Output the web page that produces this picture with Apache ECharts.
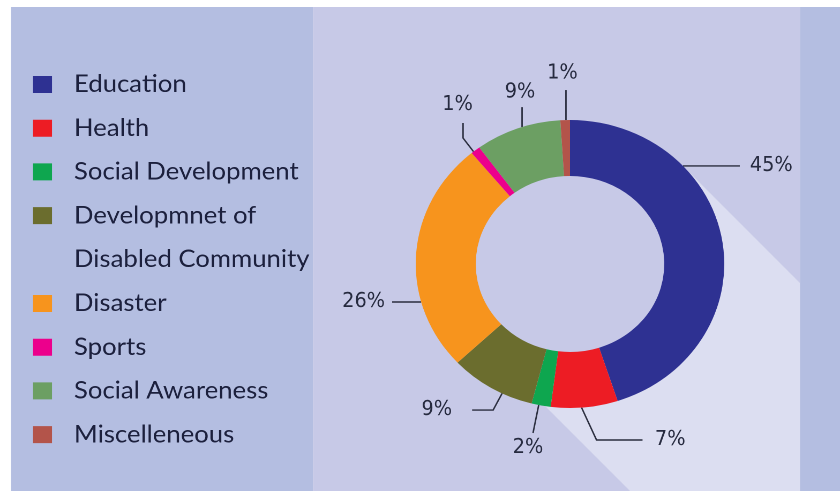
<!DOCTYPE html>
<html>
<head>
<meta charset="utf-8">
<script src="https://cdn.jsdelivr.net/npm/echarts@6/dist/echarts.min.js"></script>
<style>
  html, body { margin: 0; padding: 0; background: #ffffff; overflow: hidden; width: 840px; height: 491px; }
  /* the drawing is laid out on a 784px wide canvas and widened to 840px */
  #chart { width: 784px; height: 491px; transform: scaleX(1.0714); transform-origin: 0 0; }
</style>
</head>
<body>
<div id="chart"></div>
<script>
// ---- data ----
const categories = [
  'Education',
  'Health',
  'Social Development',
  'Developmnet of Disabled Community',
  'Disaster',
  'Sports',
  'Social Awareness',
  'Miscelleneous'
];
const shares = [45, 7, 2, 9, 26, 1, 9, 1];
const sliceColors = ['#2e3192', '#ed1c24', '#0ea64f', '#6b6d2e', '#f7941d', '#ec008c', '#6c9f63', '#b3544a'];

// ---- layout ----
const S = 840 / 784;              // horizontal stretch applied by CSS
const W = 784, H = 491;
const C = [532, 264];             // pie centre
const R = [88, 144];              // inner / outer radius

// label guides: attach angle (deg, clockwise from 12 o'clock), line segments, text offset
const guides = {
  'Education':                          { a: 47.1,  path: [[53, 0]],                text: [9.4, 0],    align: 'left' },
  'Health':                             { a: 175.7, path: [[14, 32.4], [42.9, 0]],  text: [11.6, 0],   align: 'left' },
  'Social Development':                 { a: 191.7, path: [[-5.3, 28]],             text: [-4.7, 15],  align: 'center' },
  'Developmnet of Disabled Community':  { a: 206.1, path: [[-8.4, 16.7], [-19.6, 0]], text: [-18.7, 0], align: 'right' },
  'Disaster':                           { a: 254.7, path: [[-27.1, 0]],             text: [-6.6, 0],   align: 'right' },
  'Sports':                             { a: 321.3, path: [[-9.8, -13.6], [0, -15]], text: [-5.1, -18], align: 'center' },
  'Social Awareness':                   { a: 341.9, path: [[0, -20]],               text: [-1.9, -15], align: 'center' },
  'Miscelleneous':                      { a: 358.5, path: [[0, -30]],               text: [-3.3, -17], align: 'center' }
};

// long shadow behind the ring, built in the stretched frame then mapped back
function shadowPoints() {
  const cx = C[0] * S, cy = C[1], a = R[1] * S, b = R[1];
  const n = Math.sqrt(a * a + b * b);
  const tx = cx + a * a / n, ty = cy - b * b / n;      // upper tangent point
  const right = 800, bottom = H + 5;
  const kL = cx - cy - 167;                            // lower edge: x - y = kL
  const pts = [[tx, ty], [right, ty + right - tx], [right, bottom], [bottom + kL, bottom], [cy + 97 + kL, cy + 97]];
  for (let d = 140; d >= -45; d -= 15) {
    const t = d * Math.PI / 180;
    pts.push([cx + 0.8 * a * Math.cos(t), cy + 0.8 * b * Math.sin(t)]);
  }
  return pts.map(p => [p[0] / S, p[1]]);
}

const panelLeft = '#b4bee1', panelMid = '#c7c9e7', shadowCol = '#dcdef1';
const legendFont = { fontFamily: 'Lato', fontSize: 24, color: '#1c203d' };

const chart = echarts.init(document.getElementById('chart'), null, { renderer: 'canvas', devicePixelRatio: 2 });

const legendBase = {
  orient: 'vertical',
  left: 33 / S,
  itemWidth: 19 / S,
  itemHeight: 17,
  icon: 'rect',
  padding: 0,
  selectedMode: false,
  itemGap: 16.7
};

chart.setOption({
  animation: false,
  backgroundColor: '#ffffff',
  graphic: {
    elements: [
      { type: 'rect', silent: true, z: 0, shape: { x: 11 / S, y: 7, width: (313 - 11) / S, height: H }, style: { fill: panelLeft } },
      { type: 'rect', silent: true, z: 0, shape: { x: 313 / S, y: 7, width: (800 - 313) / S, height: H }, style: { fill: panelMid } },
      { type: 'polygon', silent: true, z: 1, shape: { points: shadowPoints() }, style: { fill: shadowCol } },
      { type: 'rect', silent: true, z: 1, shape: { x: 800 / S, y: 7, width: W - 800 / S + 2, height: H }, style: { fill: panelLeft } }
    ]
  },
  legend: [
    Object.assign({}, legendBase, {
      top: 71,
      data: categories.slice(0, 3),
      textStyle: Object.assign({ lineHeight: 24, padding: [3, 0, 0, 15.5] }, legendFont)
    }),
    Object.assign({}, legendBase, {
      top: 148.55,
      data: categories.slice(3, 4),
      formatter: name => '\n' + name.replace(' of ', ' of\n'),
      textStyle: Object.assign({ lineHeight: 43.7, padding: [3, 0, 0, 15.5] }, legendFont)
    }),
    Object.assign({}, legendBase, {
      top: 290,
      data: categories.slice(4),
      textStyle: Object.assign({ lineHeight: 24, padding: [3, 0, 0, 15.5] }, legendFont)
    })
  ],
  series: [{
    type: 'pie',
    center: C,
    radius: R,
    startAngle: 90,
    clockwise: true,
    avoidLabelOverlap: false,
    minShowLabelAngle: 0,
    emphasis: { disabled: true },
    itemStyle: { borderWidth: 0 },
    label: {
      show: true,
      position: 'outside',
      formatter: '{c}%',
      fontFamily: "'DejaVu Sans Condensed', 'DejaVu Sans', sans-serif",
      fontSize: 20,
      color: '#262a3f'
    },
    labelLine: { show: true, lineStyle: { color: '#2a2d3e', width: 1.4 } },
    labelLayout: function (p) {
      const g = guides[categories[p.dataIndex]];
      const rad = g.a * Math.PI / 180;
      let x = C[0] + R[1] * Math.sin(rad);
      let y = C[1] - R[1] * Math.cos(rad);
      const pts = [[x, y]];
      g.path.forEach(d => { x += d[0]; y += d[1]; pts.push([x, y]); });
      while (pts.length < 3) pts.push(pts[pts.length - 1].slice());
      return { x: x + g.text[0], y: y + g.text[1], align: g.align, verticalAlign: 'middle', labelLinePoints: pts };
    },
    data: categories.map((name, i) => ({ name: name, value: shares[i], itemStyle: { color: sliceColors[i] } }))
  }]
});
</script>
</body>
</html>
